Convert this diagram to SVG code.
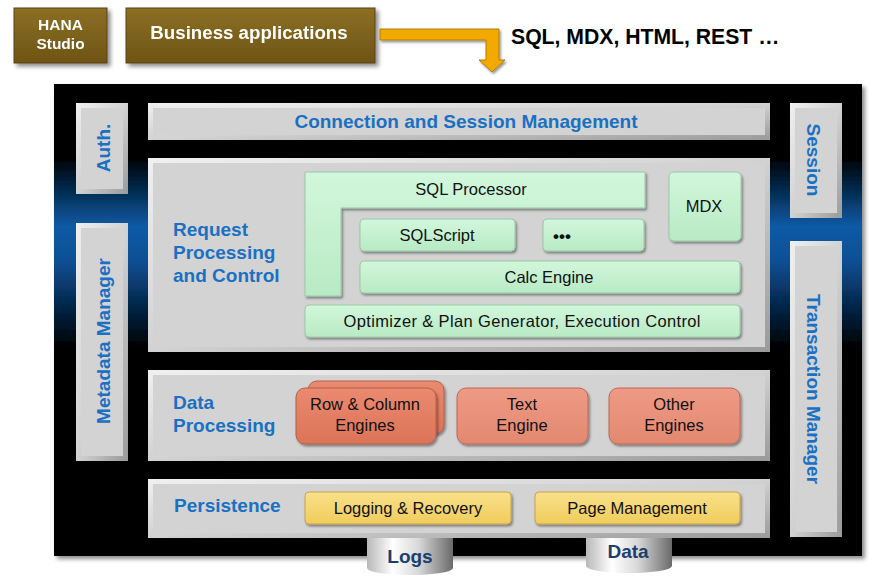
<svg xmlns="http://www.w3.org/2000/svg" width="883" height="581" viewBox="0 0 883 581">
<defs>
  <linearGradient id="glow" x1="0" y1="0" x2="0" y2="581" gradientUnits="userSpaceOnUse">
    <stop offset="0" stop-color="#000"/>
    <stop offset="0.27" stop-color="#000"/>
    <stop offset="0.39" stop-color="#0a5aa5"/>
    <stop offset="0.45" stop-color="#0a4f94"/>
    <stop offset="0.6" stop-color="#000"/>
    <stop offset="1" stop-color="#000"/>
  </linearGradient>
  <linearGradient id="bevel" x1="0" y1="0" x2="1" y2="1">
    <stop offset="0" stop-color="#f0f0f0"/>
    <stop offset="0.5" stop-color="#d2d2d2"/>
    <stop offset="1" stop-color="#9a9a9a"/>
  </linearGradient>
  <linearGradient id="brown" x1="0" y1="0" x2="0" y2="1">
    <stop offset="0" stop-color="#8c6f24"/>
    <stop offset="1" stop-color="#6e5416"/>
  </linearGradient>
  <linearGradient id="green" x1="0" y1="0" x2="0" y2="1">
    <stop offset="0" stop-color="#d2f7dc"/>
    <stop offset="1" stop-color="#b8eac4"/>
  </linearGradient>
  <linearGradient id="salmon" x1="0" y1="0" x2="0" y2="1">
    <stop offset="0" stop-color="#ee9a84"/>
    <stop offset="1" stop-color="#e38870"/>
  </linearGradient>
  <linearGradient id="salmon2" x1="0" y1="0" x2="0" y2="1">
    <stop offset="0" stop-color="#ea8a70"/>
    <stop offset="1" stop-color="#dc7358"/>
  </linearGradient>
  <linearGradient id="yellow" x1="0" y1="0" x2="0" y2="1">
    <stop offset="0" stop-color="#f9e08a"/>
    <stop offset="1" stop-color="#f0cc5c"/>
  </linearGradient>
  <linearGradient id="cyl" x1="0" y1="0" x2="1" y2="0">
    <stop offset="0" stop-color="#b8b8b8"/>
    <stop offset="0.3" stop-color="#ffffff"/>
    <stop offset="0.6" stop-color="#d8d8d8"/>
    <stop offset="1" stop-color="#6a6a6a"/>
  </linearGradient>
  <filter id="shadow" x="-10%" y="-10%" width="125%" height="130%">
    <feDropShadow dx="3" dy="3" stdDeviation="2" flood-color="#000" flood-opacity="0.45"/>
  </filter>
  <filter id="sm" x="-10%" y="-10%" width="125%" height="140%">
    <feDropShadow dx="1.5" dy="2" stdDeviation="1" flood-color="#000" flood-opacity="0.4"/>
  </filter>
</defs>
<style>
  .panel { fill: url(#bevel); }
  .inner { fill: #d3d3d3; }
  .blue { font-family: "Liberation Sans", Arial, sans-serif; font-weight: bold; fill: #1a70c2; font-size: 19px; }
  .lbl { font-family: "Liberation Sans", Arial, sans-serif; fill: #111; font-size: 16.5px; }
  .wht { font-family: "Liberation Sans", Arial, sans-serif; font-weight: bold; fill: #fff; }
  .gbox { fill: url(#green); stroke: #9cc8a6; stroke-width: 1; filter: url(#sm); }
  .sbox { fill: url(#salmon); stroke: #b86a56; stroke-width: 1; filter: url(#sm); }
  .ybox { fill: url(#yellow); stroke: #c8a44a; stroke-width: 1; filter: url(#sm); }
  .cyltxt { font-family: "Liberation Sans", Arial, sans-serif; font-weight: bold; fill: #1b3f6e; font-size: 19px; }
</style>

<!-- main frame -->
<g id="frame">
  <rect x="54" y="84" width="808" height="472" fill="url(#glow)" filter="url(#shadow)"/>
</g>

<!-- storage cylinders -->
<g id="logs">
  <path d="M367,538 L453,538 L453,568 A43,7 0 0 1 367,568 Z" fill="url(#cyl)"/>
  <text x="410" y="563" text-anchor="middle" class="cyltxt">Logs</text>
</g>
<g id="data">
  <path d="M586,538 L672,538 L672,566 A43,7 0 0 1 586,566 Z" fill="url(#cyl)"/>
  <text x="628" y="558" text-anchor="middle" class="cyltxt">Data</text>
</g>

<!-- top boxes -->
<g id="hana-studio" filter="url(#shadow)">
  <rect x="14" y="8" width="93" height="55" fill="url(#brown)" stroke="#5a4410" stroke-width="1"/>
  <text x="60.5" y="30" text-anchor="middle" class="wht" font-size="15.5">HANA</text>
  <text x="60.5" y="49" text-anchor="middle" class="wht" font-size="15.5">Studio</text>
</g>
<g id="business-apps" filter="url(#shadow)">
  <rect x="126" y="8" width="249" height="55" fill="url(#brown)" stroke="#5a4410" stroke-width="1"/>
  <text x="249" y="39" text-anchor="middle" class="wht" font-size="18.7">Business applications</text>
</g>

<g id="connectors">
  <polygon points="380,29 499,29 499,60 505,60 492,72 479,60 486,60 486,40 380,40" fill="#f2a900" stroke="#b57c00" stroke-width="1" filter="url(#sm)"/>
</g>
<g id="protocols">
  <text x="511" y="44" font-family="Liberation Sans, Arial, sans-serif" font-weight="bold" font-size="21.2" fill="#000">SQL, MDX, HTML, REST …</text>
</g>

<!-- side panels -->
<g id="auth">
  <rect class="panel" x="76" y="103" width="52" height="91"/>
  <rect class="inner" x="81" y="108" width="42" height="81"/>
  <text class="blue" transform="translate(110,148) rotate(-90)" text-anchor="middle">Auth.</text>
</g>
<g id="metadata-manager">
  <rect class="panel" x="76" y="223" width="52" height="238"/>
  <rect class="inner" x="81" y="228" width="42" height="228"/>
  <text class="blue" transform="translate(110,341) rotate(-90)" text-anchor="middle">Metadata Manager</text>
</g>
<g id="session">
  <rect class="panel" x="790" y="103" width="52" height="115"/>
  <rect class="inner" x="795" y="108" width="42" height="105"/>
  <text class="blue" transform="translate(807,160) rotate(90)" text-anchor="middle">Session</text>
</g>
<g id="transaction-manager">
  <rect class="panel" x="790" y="241" width="52" height="296"/>
  <rect class="inner" x="795" y="246" width="42" height="286"/>
  <text class="blue" transform="translate(807,389) rotate(90)" text-anchor="middle">Transaction Manager</text>
</g>

<!-- connection -->
<g id="connection-session">
  <rect class="panel" x="148" y="103" width="622" height="37"/>
  <rect class="inner" x="153" y="108" width="612" height="27"/>
  <text class="blue" x="466" y="128" text-anchor="middle">Connection and Session Management</text>
</g>

<!-- request processing -->
<g id="request-processing">
  <rect class="panel" x="148" y="158" width="622" height="194"/>
  <rect class="inner" x="153" y="163" width="612" height="184"/>
  <text class="blue" x="173" y="236">Request</text>
  <text class="blue" x="173" y="259">Processing</text>
  <text class="blue" x="173" y="282">and Control</text>
</g>
<g id="sql-processor">
  <path class="gbox" d="M305,172 L645,172 L645,208 L341,208 L341,296 L305,296 Z"/>
  <text class="lbl" x="471" y="195" text-anchor="middle">SQL  Processor</text>
</g>
<g id="mdx">
  <rect class="gbox" x="669" y="172" width="72" height="69" rx="5"/>
  <text class="lbl" x="704" y="212" text-anchor="middle">MDX</text>
</g>
<g id="sqlscript">
  <rect class="gbox" x="360" y="219" width="155" height="32" rx="4"/>
  <text class="lbl" x="437" y="241" text-anchor="middle">SQLScript</text>
</g>
<g id="more">
  <rect class="gbox" x="543" y="219" width="101" height="32" rx="4"/>
  <text x="553" y="242" font-family="Liberation Sans, Arial, sans-serif" font-weight="bold" font-size="17" fill="#111">•••</text>
</g>
<g id="calc-engine">
  <rect class="gbox" x="360" y="261" width="380" height="32" rx="4"/>
  <text class="lbl" x="549" y="283" text-anchor="middle">Calc  Engine</text>
</g>
<g id="optimizer">
  <rect class="gbox" x="305" y="305" width="435" height="32" rx="4"/>
  <text class="lbl" x="522" y="327" text-anchor="middle" textLength="357" lengthAdjust="spacing">Optimizer &amp; Plan Generator, Execution Control</text>
</g>

<!-- data processing -->
<g id="data-processing">
  <rect class="panel" x="148" y="370" width="622" height="91"/>
  <rect class="inner" x="153" y="375" width="612" height="81"/>
  <text class="blue" x="173" y="409">Data</text>
  <text class="blue" x="173" y="432">Processing</text>
</g>
<g id="row-column-engines">
  <rect x="308" y="381" width="136" height="53" rx="9" fill="url(#salmon2)" stroke="#b0604a" stroke-width="1" filter="url(#sm)"/>
  <rect x="296" y="388" width="140" height="56" rx="9" fill="url(#salmon2)" stroke="#b0604a" stroke-width="1" filter="url(#sm)"/>
  <text class="lbl" x="365" y="410" text-anchor="middle">Row  &amp; Column</text>
  <text class="lbl" x="365" y="431" text-anchor="middle">Engines</text>
</g>
<g id="text-engine">
  <rect class="sbox" x="457" y="388" width="131" height="56" rx="9"/>
  <text class="lbl" x="522" y="410" text-anchor="middle">Text</text>
  <text class="lbl" x="522" y="431" text-anchor="middle">Engine</text>
</g>
<g id="other-engines">
  <rect class="sbox" x="609" y="388" width="131" height="56" rx="9"/>
  <text class="lbl" x="674" y="410" text-anchor="middle">Other</text>
  <text class="lbl" x="674" y="431" text-anchor="middle">Engines</text>
</g>

<!-- persistence -->
<g id="persistence">
  <rect class="panel" x="148" y="479" width="622" height="59"/>
  <rect class="inner" x="153" y="484" width="612" height="49"/>
  <text class="blue" x="174" y="512">Persistence</text>
</g>
<g id="logging-recovery">
  <rect class="ybox" x="305" y="492" width="206" height="32" rx="4"/>
  <text class="lbl" x="408" y="514" text-anchor="middle">Logging  &amp; Recovery</text>
</g>
<g id="page-management">
  <rect class="ybox" x="535" y="492" width="205" height="32" rx="4"/>
  <text class="lbl" x="637" y="514" text-anchor="middle">Page  Management</text>
</g>
</svg>
